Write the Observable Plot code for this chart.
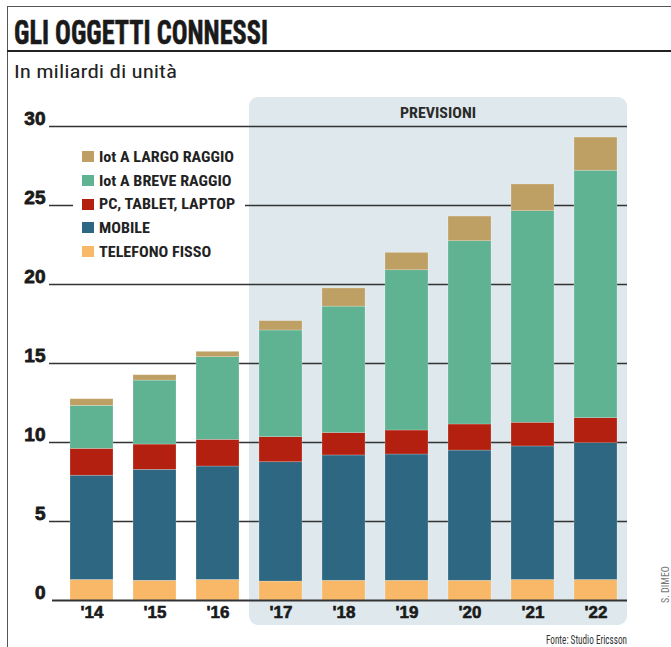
<!DOCTYPE html>
<html><head><meta charset="utf-8">
<script src="https://cdn.jsdelivr.net/npm/d3@7"></script>
<script src="https://cdn.jsdelivr.net/npm/@observablehq/plot@0.6"></script>
<style>
html,body{margin:0;padding:0;background:#fff}
body{width:671px;height:647px;overflow:hidden;position:relative;font-family:"Liberation Sans",Arial,sans-serif;color:#1b1b1b}
.narrow{font-family:"Liberation Sans Narrow","Roboto Condensed","DejaVu Sans Condensed","Liberation Sans",sans-serif;font-stretch:condensed}
.ln-top{position:absolute;left:7px;right:0;top:6px;border-top:1.5px solid #555}
.ln-left{position:absolute;left:7px;top:6px;bottom:0;border-left:1.5px solid #555}
.ln-title{position:absolute;left:7px;right:0;top:50px;border-top:2px solid #222}
.fit{position:absolute;display:inline-block;white-space:nowrap;transform-origin:0 0;line-height:1}
#title{left:14px;top:15px;font-size:34px;font-weight:bold;color:#1a1a1a;-webkit-text-stroke:0.6px #1a1a1a}
#subtitle{left:14px;top:62px;font-size:19px;color:#222}
#chart{position:absolute;left:0;top:90px}
#legend{position:absolute;left:73px;top:145px;width:172px;background:#fff;padding:0}
.item{height:23.7px;display:flex;align-items:center;padding-left:9px}
.sw{width:12px;height:11px;flex:none;margin-right:5px}
.lab{display:inline-block;white-space:nowrap;transform-origin:0 50%;font-size:14px;font-weight:bold;color:#222;line-height:1}
#source{left:546px;top:634px;font-size:12px;color:#333}
#credit{position:absolute;left:660px;top:603px;font-size:10px;color:#777;transform:rotate(-90deg);transform-origin:0 0;white-space:nowrap}
</style>
</head><body>
<div class="ln-top"></div>
<div class="ln-left"></div>
<div class="ln-title"></div>
<div id="title" class="fit narrow">GLI OGGETTI CONNESSI</div>
<div id="subtitle" class="fit narrow">In miliardi di unità</div>
<div id="chart"></div>
<div id="legend" class="narrow"></div>
<div id="source" class="fit narrow">Fonte: Studio Ericsson</div>
<div id="credit" class="narrow">S. DIMEO</div>
<script>
// ---- data ----
const years = ["'14", "'15", "'16", "'17", "'18", "'19", "'20", "'21", "'22"];
const forecastYears = ["'17", "'18", "'19", "'20", "'21", "'22"];
const forecastLabel = "PREVISIONI";
const seriesNames = ["TELEFONO FISSO", "MOBILE", "PC, TABLET, LAPTOP", "Iot A BREVE RAGGIO", "Iot A LARGO RAGGIO"];
const legendOrder = ["Iot A LARGO RAGGIO", "Iot A BREVE RAGGIO", "PC, TABLET, LAPTOP", "MOBILE", "TELEFONO FISSO"];
const seriesColors = ["#f8b868", "#2e6781", "#b3200f", "#5fb393", "#bfa064"];
const telefonoFisso = [1.3, 1.25, 1.3, 1.2, 1.25, 1.25, 1.25, 1.3, 1.3];
const mobile = [6.6, 7.02, 7.18, 7.55, 7.93, 7.99, 8.24, 8.45, 8.66];
const pcTabletLaptop = [1.7, 1.6, 1.69, 1.59, 1.42, 1.52, 1.65, 1.5, 1.58];
const iotBreve = [2.72, 4.05, 5.23, 6.75, 8.0, 10.14, 11.6, 13.39, 15.66];
const iotLargo = [0.42, 0.34, 0.34, 0.59, 1.15, 1.1, 1.56, 1.69, 2.1];
const yTicks = [0, 5, 10, 15, 20, 25, 30];

const seriesArrays = [telefonoFisso, mobile, pcTabletLaptop, iotBreve, iotLargo];
const rows = [];
years.forEach((yr, i) => seriesArrays.forEach((arr, k) => rows.push({year: yr, series: seriesNames[k], value: arr[i]})));

const NARROW = '"Liberation Sans Narrow","Roboto Condensed","DejaVu Sans Condensed","Liberation Sans",sans-serif';

// forecast panel drawn from the scales
function forecastPanel(index, scales) {
  const x = scales.x, y = scales.y;
  const bw = typeof x.bandwidth === "function" ? x.bandwidth() : x.bandwidth;
  const step = x(years[1]) - x(years[0]);
  const gap = step - bw;
  const left = x(forecastYears[0]) - gap / 2;
  const right = x(forecastYears[forecastYears.length - 1]) + bw + gap / 2;
  const top = y(30) - 29, bottom = y(0) + 25;
  const g = d3.create("svg:g");
  g.append("rect").attr("x", left).attr("y", top).attr("width", right - left).attr("height", bottom - top)
    .attr("rx", 9).attr("fill", "#dfe9ed");
  g.append("text").attr("x", (left + right) / 2).attr("y", y(30) - 8).attr("text-anchor", "middle")
    .attr("font-family", NARROW).attr("font-weight", "bold").attr("font-size", 15).attr("fill", "#2a2a2a")
    .attr("textLength", 76).attr("lengthAdjust", "spacingAndGlyphs").text(forecastLabel);
  return g.node();
}

const chart = Plot.plot({
  width: 671,
  height: 557,
  marginLeft: 52,
  marginRight: 44,
  marginTop: 36,
  marginBottom: 47,
  style: {background: "transparent", overflow: "visible"},
  x: {type: "band", domain: years, paddingInner: 0.32, paddingOuter: 0.1875, align: 0.63, axis: null},
  y: {domain: [0, 30], axis: null},
  color: {domain: seriesNames, range: seriesColors},
  marks: [
    forecastPanel,
    Plot.ruleY(yTicks.filter(d => d > 0), {stroke: "#333", strokeWidth: 1.4, insetLeft: -3}),
    Plot.barY(rows, {x: "year", y: "value", fill: "series", stroke: "#ffffff", strokeOpacity: 0.35, strokeWidth: 0.6}),
    Plot.ruleY([0], {stroke: "#333", strokeWidth: 2}),
    Plot.text(yTicks, {y: d => d, frameAnchor: "left", textAnchor: "end", dx: -7, dy: -8,
      fontSize: 19, fontWeight: "bold", fontFamily: "Liberation Sans, Arial, sans-serif",
      fill: "#1a1a1a", stroke: "#1a1a1a", strokeWidth: 0.8}),
    Plot.text(years, {x: d => d, frameAnchor: "bottom", lineAnchor: "top", dy: 5,
      fontSize: 17, fontWeight: "bold", fontFamily: "Liberation Sans, Arial, sans-serif",
      fill: "#1a1a1a", stroke: "#1a1a1a", strokeWidth: 0.6})
  ]
});
document.getElementById("chart").appendChild(chart);

// legend
const legend = document.getElementById("legend");
legendOrder.forEach(name => {
  const it = document.createElement("div"); it.className = "item";
  const sw = document.createElement("span"); sw.className = "sw";
  sw.style.background = seriesColors[seriesNames.indexOf(name)];
  const lab = document.createElement("span"); lab.className = "lab"; lab.textContent = name;
  it.appendChild(sw); it.appendChild(lab); legend.appendChild(it);
});

function fit(el, target) {
  const w = el.getBoundingClientRect().width;
  el.style.transform = `scaleX(${target / w})`;
  return target / w;
}
fit(document.getElementById("title"), 254);
fit(document.getElementById("subtitle"), 163);
fit(document.getElementById("source"), 81);
const labs = legend.querySelectorAll(".lab");
const k = 135 / labs[0].getBoundingClientRect().width;
labs.forEach(l => l.style.transform = `scaleX(${k})`);
</script>
</body></html>
